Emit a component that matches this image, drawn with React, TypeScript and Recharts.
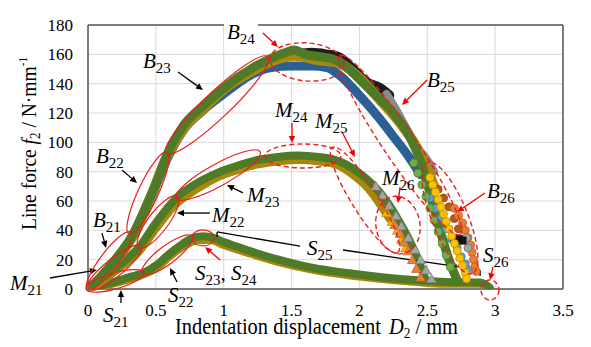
import React from 'react';
import {
  ComposedChart, Line, Scatter, XAxis, YAxis, CartesianGrid,
  ReferenceLine, ReferenceDot,
} from 'recharts';

type P = [number, number];
const pts = (a: P[]) => a.map(([x, y]) => ({ x, y }));

const xTicks = [0, 0.5, 1, 1.5, 2, 2.5, 3, 3.5];
const yTicks = [0, 20, 40, 60, 80, 100, 120, 140, 160, 180];

// ---- B (top) curves ----
const bBlue: P[] = [[0.42,52],[0.5,70],[0.58,88],[0.7,108],[0.85,122],[1.0,133],[1.2,146],[1.35,151],[1.5,152],[1.65,152],[1.76,151],[1.85,146],[2.0,132],[2.15,116],[2.25,104],[2.35,92],[2.45,78]];
const bOlive: P[] = [[0.05,3],[0.2,19],[0.33,36],[0.45,60],[0.58,90],[0.7,109],[0.85,123],[1.0,136],[1.2,148],[1.35,155],[1.52,159],[1.7,156],[1.85,154],[2.0,144],[2.15,129],[2.3,113],[2.4,100],[2.48,86],[2.55,70]];
const bBlack: P[] = [[1.55,160],[1.65,161],[1.75,160],[1.85,158],[1.95,150],[2.05,141],[2.15,137],[2.22,132]];
const bGray: P[] = [[2.2,133],[2.26,124],[2.32,114],[2.38,104],[2.44,95],[2.5,88],[2.55,80]];
const bGreen: P[] = [[0,0],[0.1,9],[0.2,20],[0.33,37],[0.45,61],[0.52,76],[0.58,91],[0.7,111],[0.85,125],[0.95,133],[1.1,144],[1.2,150],[1.32,156],[1.45,161],[1.52,163],[1.6,160],[1.7,158.5],[1.8,157],[1.9,152],[2.0,143],[2.1,134],[2.25,120],[2.37,104],[2.45,87],[2.5,72],[2.55,55],[2.6,38],[2.66,20],[2.72,6]];
const bYellowDots: P[] = [[2.52,76],[2.54,71],[2.56,66],[2.58,61],[2.6,56],[2.62,51],[2.64,46],[2.66,41],[2.68,36],[2.7,31],[2.72,26],[2.74,21],[2.76,16],[2.78,11],[2.79,7]];
const bBlueDots: P[] = [[2.52,62],[2.56,55],[2.6,48],[2.64,41],[2.68,34],[2.72,28],[2.75,22],[2.78,17],[2.81,13]];
const bBrownDots: P[] = [[2.58,68],[2.62,62],[2.66,56],[2.7,48],[2.73,41],[2.76,34]];
const bOrangeDots: P[] = [[2.7,55],[2.73,50],[2.76,45],[2.78,40],[2.8,35],[2.82,30],[2.83,25],[2.84,20],[2.85,15],[2.86,12]];
const bBlackSquares: P[] = [[2.7,34],[2.73,34],[2.76,33]];
const bGrayDots: P[] = [[2.79,35],[2.8,28]];
const bGreenDots: P[] = [[2.4,86],[2.43,79],[2.46,71],[2.49,63],[2.52,55],[2.55,47],[2.58,39],[2.61,31],[2.64,23],[2.67,15]];

// ---- M (middle) curves ----
const mOlive: P[] = [[0.05,2],[0.2,12],[0.38,26],[0.5,41],[0.65,58],[0.8,68],[0.95,76],[1.1,81],[1.25,85],[1.4,87],[1.55,88],[1.7,87],[1.85,84],[1.95,78],[2.05,70],[2.15,58],[2.22,48]];
const mGreen: P[] = [[0,0],[0.1,7],[0.2,14],[0.38,29],[0.5,45],[0.65,62],[0.8,72],[0.95,79],[1.1,84],[1.25,88],[1.4,90],[1.55,91],[1.7,90],[1.8,88.5],[1.9,85],[2.0,79],[2.1,71],[2.2,60],[2.3,45],[2.38,31],[2.44,18],[2.49,6]];
const mGrayTri: P[] = [[2.12,70],[2.17,64],[2.22,57],[2.27,50],[2.31,43],[2.36,35],[2.41,27],[2.45,20],[2.49,13],[2.53,7]];
const mOrangeTri: P[] = [[2.26,44],[2.3,38],[2.33,32],[2.36,26],[2.39,20],[2.42,14],[2.45,8]];
const mGoldTri: P[] = [[2.2,52],[2.24,46],[2.28,40],[2.31,34],[2.34,28]];

// ---- S (bottom) curves ----
const sOlive: P[] = [[0.05,1],[0.2,4],[0.41,10],[0.5,14],[0.6,22],[0.7,29],[0.8,33],[0.9,33.5],[1.0,30],[1.2,24],[1.4,18.5],[1.66,13],[1.91,9.5],[2.15,7],[2.4,5],[2.64,3.5],[2.89,3.5]];
const sGreen: P[] = [[0,0],[0.1,2.5],[0.2,5],[0.3,8],[0.41,11],[0.5,16],[0.6,24],[0.7,31],[0.78,35],[0.85,36],[0.92,35],[1.0,32],[1.17,26.6],[1.41,19.8],[1.66,14.3],[1.91,10.9],[2.15,8.2],[2.4,6.1],[2.64,4.8],[2.89,4.5],[2.93,3],[2.96,1]];

// ---- annotations (data coordinates) ----
const labels = [
  { t: 'B', s: '24', x: 1.024, y: 170.5, bg: true },
  { t: 'B', s: '23', x: 0.405, y: 150.7 },
  { t: 'B', s: '22', x: 0.059, y: 85.9 },
  { t: 'B', s: '21', x: 0.037, y: 42.3 },
  { t: 'M', s: '21', x: -0.575, y: -0.7 },
  { t: 'S', s: '21', x: 0.111, y: -22.5 },
  { t: 'S', s: '22', x: 0.589, y: -8.9 },
  { t: 'S', s: '23', t2: 'S', s2: '24', x: 0.788, y: 6.1 },
  { t: 'M', s: '22', x: 0.914, y: 45.7 },
  { t: 'M', s: '23', x: 1.172, y: 59.3 },
  { t: 'M', s: '24', x: 1.378, y: 117.3 },
  { t: 'M', s: '25', x: 1.673, y: 109.8 },
  { t: 'M', s: '26', x: 2.166, y: 70.9 },
  { t: 'B', s: '25', x: 2.498, y: 137.7 },
  { t: 'B', s: '26', x: 2.94, y: 62.0 },
  { t: 'S', s: '25', x: 1.614, y: 23.2 },
  { t: 'S', s: '26', x: 2.911, y: 18.4 },
];

const arrows = [
  { x1: 0.663, y1: 148.0, x2: 0.847, y2: 135.7, c: '#000' },
  { x1: 0.251, y1: 81.1, x2: 0.361, y2: 72.3, c: '#000' },
  { x1: 0.103, y1: 38.2, x2: 0.133, y2: 28.0, c: '#000' },
  { x1: -0.28, y1: 7.5, x2: 0.066, y2: 13.0, c: '#000' },
  { x1: 0.243, y1: -9.5, x2: 0.243, y2: -0.7, c: '#000' },
  { x1: 0.656, y1: 4.8, x2: 0.604, y2: 14.3, c: '#000' },
  { x1: 0.899, y1: 51.8, x2: 0.656, y2: 51.8, c: '#000' },
  { x1: 1.142, y1: 65.5, x2: 1.024, y2: 70.9, c: '#000' },
  { x1: 1.289, y1: 174.5, x2: 1.4, y2: 165.0, c: '#e00' },
  { x1: 2.498, y1: 142.5, x2: 2.314, y2: 125.5, c: '#e00' },
  { x1: 1.503, y1: 113.2, x2: 1.503, y2: 99.5, c: '#e00' },
  { x1: 1.872, y1: 107.0, x2: 1.967, y2: 90.0, c: '#e00' },
  { x1: 2.299, y1: 69.5, x2: 2.284, y2: 58.6, c: '#e00' },
  { x1: 2.925, y1: 65.5, x2: 2.719, y2: 52.5, c: '#e00' },
  { x1: 2.984, y1: 15.0, x2: 2.962, y2: 6.1, c: '#e00' },
  { x1: 0.973, y1: 19.8, x2: 0.862, y2: 28.6, c: '#e00' },
];

const s25Lines = [
  { x1: 0.951, y1: 35.5, x2: 0.951, y2: 38.9 },
  { x1: 0.951, y1: 38.9, x2: 1.562, y2: 29.3 },
  { x1: 1.879, y1: 26.6, x2: 2.889, y2: 13.0 },
  { x1: 2.889, y1: 13.0, x2: 2.889, y2: 8.9 },
];

const ellipses = [
  { x: 0.155, y: 19.1, rx: 36, ry: 9, a: -53, d: false },
  { x: 0.442, y: 65.5, rx: 45, ry: 10, a: -65, d: false },
  { x: 0.951, y: 125.5, rx: 70, ry: 13, a: -43.5, d: false },
  { x: 0.192, y: 14.3, rx: 35, ry: 9, a: -39, d: false },
  { x: 0.516, y: 45.7, rx: 32, ry: 10, a: -53, d: false },
  { x: 0.958, y: 77.7, rx: 48, ry: 11, a: -29, d: false },
  { x: 0.199, y: 5.5, rx: 30, ry: 8, a: -16, d: false },
  { x: 0.582, y: 23.2, rx: 31, ry: 9, a: -37, d: false },
  { x: 0.847, y: 34.8, rx: 11, ry: 8, a: 0, d: false },
  { x: 1.614, y: 154.8, rx: 37, ry: 19, a: 5, d: true },
  { x: 2.299, y: 98.2, rx: 108, ry: 16, a: 56, d: true },
  { x: 2.667, y: 48.4, rx: 60, ry: 18, a: 68, d: true },
  { x: 1.584, y: 90.7, rx: 38, ry: 12, a: 0, d: true },
  { x: 2.041, y: 60.7, rx: 62, ry: 13, a: 58, d: true },
  { x: 2.284, y: 43.6, rx: 22, ry: 29, a: -10, d: true },
  { x: 2.962, y: -0.7, rx: 9, ry: 10, a: 0, d: true },
];

const SERIF = '"Liberation Serif", "Times New Roman", serif';

const circleShape = (fill: string, stroke: string, r = 4) => (p: any) =>
  <circle cx={p.cx} cy={p.cy} r={r} fill={fill} stroke={stroke} strokeWidth={0.8} />;
const triShape = (fill: string, stroke: string) => (p: any) => {
  const s = 5;
  return <path d={`M${p.cx},${p.cy - s} L${p.cx + s},${p.cy + s * 0.8} L${p.cx - s},${p.cy + s * 0.8} Z`} fill={fill} stroke={stroke} strokeWidth={0.6} />;
};
const squareShape = (fill: string) => (p: any) =>
  <rect x={p.cx - 4} y={p.cy - 4} width={8} height={8} fill={fill} />;

const arrowShape = (color: string, head: boolean) => (p: any) => {
  const { x1, y1, x2, y2 } = p;
  const dx = x2 - x1, dy = y2 - y1;
  const len = Math.sqrt(dx * dx + dy * dy) || 1;
  const ux = dx / len, uy = dy / len;
  const hl = 7, hw = 3.2;
  const bx = x2 - ux * hl, by = y2 - uy * hl;
  return (
    <g>
      <line x1={x1} y1={y1} x2={head ? bx : x2} y2={head ? by : y2} stroke={color} strokeWidth={1.3} />
      {head && (
        <path d={`M${x2},${y2} L${bx - uy * hw},${by + ux * hw} L${bx + uy * hw},${by - ux * hw} Z`} fill={color} />
      )}
    </g>
  );
};

const labelShape = (l: any) => (p: any) => (
  <g>
    {l.bg && <rect x={p.cx - 3} y={p.cy - 16} width={34} height={24} fill="#fff" />}
    <text x={p.cx} y={p.cy} fontFamily={SERIF} fontSize={21} fill="#000">
      <tspan fontStyle="italic">{l.t}</tspan>
      <tspan fontSize={15} dy={5}>{l.s}</tspan>
      {l.t2 && <tspan dy={-5}>, </tspan>}
      {l.t2 && <tspan fontStyle="italic">{l.t2}</tspan>}
      {l.t2 && <tspan fontSize={15} dy={5}>{l.s2}</tspan>}
    </text>
  </g>
);

const ellipseShape = (e: any) => (p: any) => (
  <ellipse cx={p.cx} cy={p.cy} rx={e.rx} ry={e.ry} fill="none" stroke="#ee1c1c"
    strokeWidth={e.d ? 1.4 : 1.2} strokeDasharray={e.d ? '5 3' : undefined}
    transform={`rotate(${e.a} ${p.cx} ${p.cy})`} />
);

const XTitle = () => (
  <text x={175} y={334} fontFamily={SERIF} fontSize={23} fill="#000" textLength={283} lengthAdjust="spacingAndGlyphs">
    Indentation displacement<tspan dx={9} fontStyle="italic">D</tspan><tspan fontSize={15} dy={4}>2</tspan><tspan dy={-4}> / mm</tspan>
  </text>
);

const YTitle = () => {
  const cx = 36, cy = 230;
  return (
    <text x={cx} y={cy} transform={`rotate(-90 ${cx} ${cy})`} fontFamily={SERIF} fontSize={21} fill="#000" textLength={173} lengthAdjust="spacingAndGlyphs">
      Line force <tspan fontStyle="italic">f</tspan><tspan fontSize={14} dy={4}>2</tspan><tspan dy={-4}> / N·mm</tspan><tspan fontSize={12} dy={-9}>-1</tspan>
    </text>
  );
};

const band = (data: P[], color: string, w: number) => (
  <Line data={pts(data)} dataKey="y" stroke={color} strokeWidth={w} dot={false} activeDot={false}
    isAnimationActive={false} strokeLinecap="round" strokeLinejoin="round" type="monotone" legendType="none" />
);

const BORDER = '#595959';

export default function App() {
  return (
    <div style={{ position: 'absolute', left: 0, top: 0, width: 591, height: 347, background: '#fff' }}>
      <ComposedChart width={591} height={347} margin={{ top: 25, right: 28, bottom: 0, left: 0 }}>
        <CartesianGrid stroke="#d9d9d9" strokeWidth={1} />
        <XAxis type="number" dataKey="x" domain={[0, 3.5]} ticks={xTicks} interval={0} allowDataOverflow
          tickLine={false} axisLine={false} tickSize={0} tickMargin={15}
          tick={{ fontFamily: SERIF, fontSize: 17, fill: '#000' }} label={<XTitle />} height={58} />
        <YAxis type="number" dataKey="y" domain={[0, 180]} ticks={yTicks} interval={0} allowDataOverflow
          tickLine={false} axisLine={false} tickSize={0} tickMargin={15} width={88}
          tick={{ fontFamily: SERIF, fontSize: 17, fill: '#000' }} label={<YTitle />} />

        <ReferenceLine x={0} stroke={BORDER} strokeWidth={1.5} ifOverflow="visible" />
        <ReferenceLine x={3.5} stroke={BORDER} strokeWidth={1.5} ifOverflow="visible" />
        <ReferenceLine y={0} stroke={BORDER} strokeWidth={1.5} ifOverflow="visible" />
        <ReferenceLine y={180} stroke={BORDER} strokeWidth={1.5} ifOverflow="visible" />

        {band(sOlive, '#a8870a', 8)}
        {band(sGreen, '#4f7a28', 8)}

        {band(mOlive, '#a8870a', 8)}
        {band(mGreen, '#4f7a28', 8)}
        <Scatter data={pts(mGoldTri)} dataKey="y" isAnimationActive={false} shape={triShape('#f2b705', '#b08400')} />
        <Scatter data={pts(mOrangeTri)} dataKey="y" isAnimationActive={false} shape={triShape('#e8803a', '#a85a20')} />
        <Scatter data={pts(mGrayTri)} dataKey="y" isAnimationActive={false} shape={triShape('#a5a5a5', '#707070')} />

        {band(bBlue, '#2c5f94', 9)}
        {band(bBlack, '#1c1c1c', 10)}
        {band(bGray, '#8a8a8a', 8)}
        {band(bOlive, '#a8870a', 10)}
        {band(bGreen, '#4f7a28', 9)}
        <Scatter data={pts(bBrownDots)} dataKey="y" isAnimationActive={false} shape={circleShape('#b5581c', '#8a3f10')} />
        <Scatter data={pts(bBlueDots)} dataKey="y" isAnimationActive={false} shape={circleShape('#5b9bd5', '#3a78b0')} />
        <Scatter data={pts(bOrangeDots)} dataKey="y" isAnimationActive={false} shape={circleShape('#ed7d31', '#b85e20')} />
        <Scatter data={pts(bGrayDots)} dataKey="y" isAnimationActive={false} shape={circleShape('#a5a5a5', '#707070')} />
        <Scatter data={pts(bBlackSquares)} dataKey="y" isAnimationActive={false} shape={squareShape('#111')} />
        <Scatter data={pts(bYellowDots)} dataKey="y" isAnimationActive={false} shape={circleShape('#ffc000', '#c09000')} />
        <Scatter data={pts(bGreenDots)} dataKey="y" isAnimationActive={false} shape={circleShape('#70ad47', '#4f8a2e')} />

        {ellipses.map((e, i) => (
          <ReferenceDot key={'e' + i} x={e.x} y={e.y} r={1} ifOverflow="visible" shape={ellipseShape(e)} />
        ))}
        {s25Lines.map((a, i) => (
          <ReferenceLine key={'s' + i} segment={[{ x: a.x1, y: a.y1 }, { x: a.x2, y: a.y2 }]} ifOverflow="visible" shape={arrowShape('#000', false)} />
        ))}
        {arrows.map((a, i) => (
          <ReferenceLine key={'a' + i} segment={[{ x: a.x1, y: a.y1 }, { x: a.x2, y: a.y2 }]} ifOverflow="visible" shape={arrowShape(a.c, true)} />
        ))}
        {labels.map((l, i) => (
          <ReferenceDot key={'l' + i} x={l.x} y={l.y} r={1} ifOverflow="visible" shape={labelShape(l)} />
        ))}
      </ComposedChart>
    </div>
  );
}
